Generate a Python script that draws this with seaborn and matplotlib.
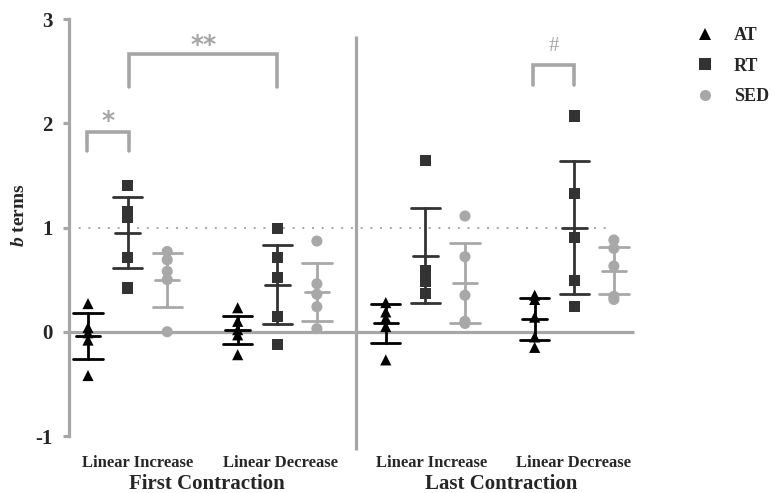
import numpy as np
import pandas as pd
import matplotlib
matplotlib.use("Agg")
import matplotlib.pyplot as plt
import seaborn as sns

# ---------------- data ----------------
conditions = ["First LI", "First LD", "Last LI", "Last LD"]
tick_labels = ["Linear Increase", "Linear Decrease", "Linear Increase", "Linear Decrease"]
section_labels = ["First Contraction", "Last Contraction"]
groups = ["AT", "RT", "SED"]

AT_points = [[0.27, 0.04, -0.01, -0.08, -0.42],
             [0.23, 0.10, 0.02, -0.03, -0.22],
             [0.28, 0.19, 0.13, 0.05, -0.27],
             [0.35, 0.31, 0.14, -0.05, -0.15]]
RT_points = [[1.40, 1.15, 1.10, 0.71, 0.42],
             [0.99, 0.71, 0.52, 0.15, -0.12],
             [1.64, 0.59, 0.48, 0.37],
             [2.07, 1.33, 0.90, 0.49, 0.24]]
SED_points = [[0.77, 0.69, 0.58, 0.50, 0.00],
              [0.87, 0.46, 0.36, 0.24, 0.03],
              [1.11, 0.72, 0.35, 0.10, 0.08],
              [0.88, 0.80, 0.63, 0.34, 0.31]]

AT_mean = [-0.04, 0.02, 0.08, 0.12]
AT_sd = [0.22, 0.135, 0.19, 0.20]
RT_mean = [0.95, 0.45, 0.73, 1.00]
RT_sd = [0.34, 0.38, 0.455, 0.635]
SED_mean = [0.50, 0.38, 0.47, 0.585]
SED_sd = [0.26, 0.275, 0.385, 0.225]

sig_labels = ["*", "**", "#"]

# ---------------- style ----------------
sns.set_style("white")
plt.rcParams["font.family"] = ["Liberation Serif", "DejaVu Serif"]
plt.rcParams["mathtext.fontset"] = "custom"
plt.rcParams["mathtext.it"] = "Liberation Serif:italic:bold"
plt.rcParams["mathtext.rm"] = "Liberation Serif:bold"

GRAY = "#a6a6a6"
colors = {"AT": "#000000", "RT": "#333333", "SED": "#a8a8a8"}
markers = {"AT": "^", "RT": "s", "SED": "o"}

group_base = [0.0, 3.78, 7.52, 11.28]
offsets = {"AT": 0.0, "RT": 1.0, "SED": 2.0}

pts = {"AT": AT_points, "RT": RT_points, "SED": SED_points}
means = {"AT": AT_mean, "RT": RT_mean, "SED": SED_mean}
sds = {"AT": AT_sd, "RT": RT_sd, "SED": SED_sd}

rows = []
for ci, cond in enumerate(conditions):
    for g in groups:
        for v in pts[g][ci]:
            rows.append({"x": group_base[ci] + offsets[g], "value": v, "group": g, "cond": cond})
df = pd.DataFrame(rows)

fig = plt.figure(figsize=(7.75, 4.93), dpi=100)
ax = fig.add_axes([69 / 775, 57 / 493, 571 / 775, 417 / 493])

# reference lines
ax.plot([-0.48, 13.79], [0, 0], color=GRAY, lw=2.3, zorder=1, solid_capstyle="butt")
ax.plot([-0.48, 13.13], [1, 1], color=GRAY, lw=1.4, ls=(0, (1, 4)), zorder=1)
ax.plot([6.77, 6.77], [-1.13, 2.84], color=GRAY, lw=2.3, zorder=1, clip_on=False,
        solid_capstyle="butt")

# error bars (mean +/- SD)
cap_hw, mean_hw = 0.37, 0.31
for ci in range(len(conditions)):
    for g in groups:
        x = group_base[ci] + offsets[g]
        m, s = means[g][ci], sds[g][ci]
        c = colors[g]
        ax.plot([x, x], [m - s, m + s], color=c, lw=2.0, zorder=2)
        ax.plot([x - cap_hw, x + cap_hw], [m + s, m + s], color=c, lw=2.0, zorder=2)
        ax.plot([x - cap_hw, x + cap_hw], [m - s, m - s], color=c, lw=2.0, zorder=2)
        ax.plot([x - mean_hw, x + mean_hw], [m, m], color=c, lw=2.0, zorder=2)

sns.scatterplot(data=df, x="x", y="value", hue="group", style="group",
                palette=colors, markers=markers, hue_order=groups, style_order=groups,
                s=64, linewidth=0, ax=ax, zorder=3)

# significance brackets
def bracket(x1, x2, ytop, ybot, label, ytext, size, weight, family):
    ax.plot([x1, x1, x2, x2], [ybot, ytop, ytop, ybot], color=GRAY, lw=2.6,
            clip_on=False, solid_joinstyle="miter", zorder=2)
    ax.text((x1 + x2) / 2, ytext, label, color=GRAY, ha="center", va="center",
            fontsize=size, fontweight=weight, family=family, clip_on=False)

bracket(group_base[0] - 0.02, group_base[0] + 1.04, 1.92, 1.73, sig_labels[0], 2.02, 18,
        "bold", ["DejaVu Sans"])
bracket(group_base[0] + 1.04, group_base[1] + 1.0, 2.66, 2.35, sig_labels[1], 2.75, 18,
        "bold", ["DejaVu Sans"])
bracket(group_base[3] - 0.05, group_base[3] + 1.0, 2.56, 2.37, sig_labels[2], 2.74, 15,
        "normal", ["Liberation Serif"])

# axes
ax.set_xlim(-0.48, 13.94)
ax.set_ylim(-1, 3)
ax.set_yticks([-1, 0, 1, 2, 3])
ax.set_yticklabels(["-1", "0", "1", "2", "3"])
ax.set_xticks([])
ax.set_xlabel("")
for sp in ["top", "right", "bottom"]:
    ax.spines[sp].set_visible(False)
ax.spines["left"].set_color(GRAY)
ax.spines["left"].set_linewidth(2.3)
ax.tick_params(axis="y", left=True, length=4, width=2.3, color=GRAY, pad=8,
               labelsize=15)
for t in ax.get_yticklabels():
    t.set_fontweight("bold")

ax.set_ylabel(r"$b$ terms", fontsize=14, fontweight="bold")
ax.yaxis.set_label_coords(-0.072, 0.53)

# category labels
cat_x = [1.26, 4.85, 8.69, 12.27]
for xc, lab in zip(cat_x, tick_labels):
    ax.text(xc, -1.26, lab, ha="center", va="center", fontsize=12, fontweight="bold",
            clip_on=False)
sec_x = [3.0, 10.43]
for xc, lab in zip(sec_x, section_labels):
    ax.text(xc, -1.465, lab, ha="center", va="center", fontsize=15, fontweight="bold",
            clip_on=False)

# legend
sns.move_legend(ax, "upper left", bbox_to_anchor=(696 / 775, (493 - 27) / 493),
                bbox_transform=fig.transFigure, frameon=False, title=None,
                prop={"family": "Liberation Serif", "weight": "bold", "size": 13},
                handlelength=1.0, handletextpad=1.1, labelspacing=0.75,
                borderpad=0, borderaxespad=0)

fig.savefig("out.png", dpi=100)
